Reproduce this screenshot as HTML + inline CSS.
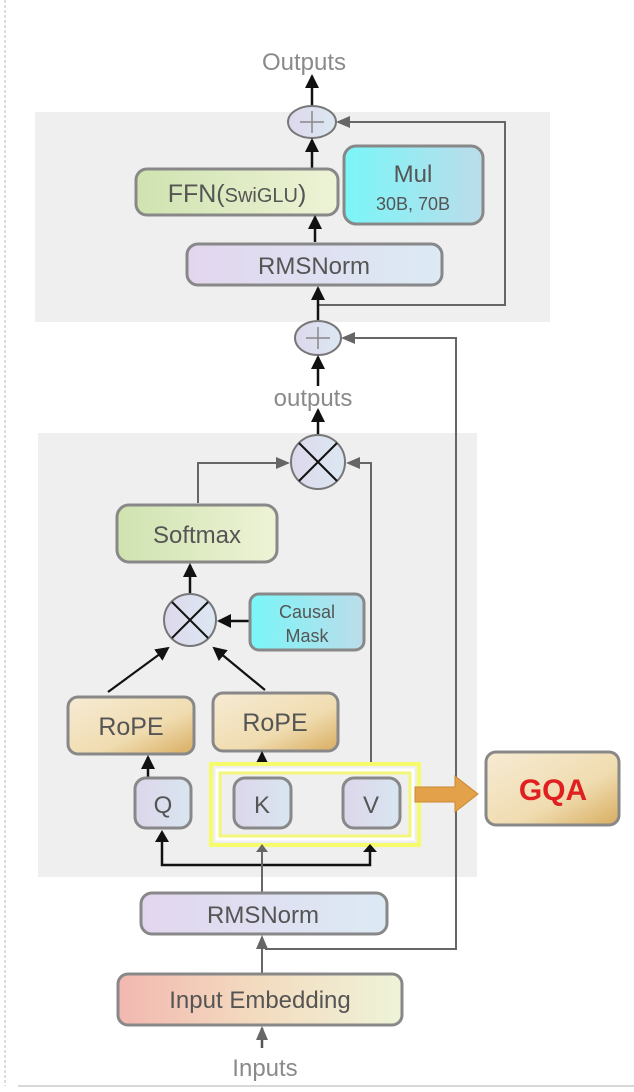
<!DOCTYPE html>
<html><head><meta charset="utf-8"><style>
html,body{margin:0;padding:0;background:#fff}
svg{display:block}
text{font-family:"Liberation Sans",sans-serif}
</style></head><body>
<svg width="634" height="1092" viewBox="0 0 634 1092" xmlns="http://www.w3.org/2000/svg">
<defs>
<marker id="ab" markerWidth="10" markerHeight="10" refX="8" refY="5" orient="auto" markerUnits="userSpaceOnUse"><path d="M0,0 L10,5 L0,10 z" fill="#111"/></marker>
<marker id="ag" markerWidth="14" markerHeight="12" refX="12" refY="6" orient="auto" markerUnits="userSpaceOnUse"><path d="M0,0 L14,6 L0,12 z" fill="#666"/></marker>
<marker id="abb" markerWidth="14" markerHeight="14" refX="12" refY="7" orient="auto" markerUnits="userSpaceOnUse"><path d="M0,0 L14,7 L0,14 z" fill="#111"/></marker>
<linearGradient id="gGreen" x1="0" x2="1"><stop offset="0" stop-color="#cfe3b0"/><stop offset="1" stop-color="#eef3d6"/></linearGradient>
<linearGradient id="gCyan" x1="0" x2="1"><stop offset="0" stop-color="#7af6f8"/><stop offset="1" stop-color="#bcdcea"/></linearGradient>
<linearGradient id="gRms" x1="0" x2="1"><stop offset="0" stop-color="#e2d6ee"/><stop offset="1" stop-color="#dceaf4"/></linearGradient>
<linearGradient id="gRope" x1="0" y1="0" x2="1" y2="1"><stop offset="0" stop-color="#f6ebd4"/><stop offset="0.6" stop-color="#f0dcb0"/><stop offset="1" stop-color="#d8ad60"/></linearGradient>
<linearGradient id="gQ" x1="0" x2="1"><stop offset="0" stop-color="#ddd6ea"/><stop offset="1" stop-color="#d8e6f0"/></linearGradient>
<linearGradient id="gEmb" x1="0" x2="1"><stop offset="0" stop-color="#f2b8b0"/><stop offset="0.5" stop-color="#f3dcc0"/><stop offset="1" stop-color="#eef3d8"/></linearGradient>
<linearGradient id="gCirc" x1="0" x2="1"><stop offset="0" stop-color="#ddd8ec"/><stop offset="1" stop-color="#dce8f2"/></linearGradient>
</defs>

<!-- page frame -->
<line x1="5" y1="0" x2="5" y2="1086" stroke="#bbb" stroke-width="1" stroke-dasharray="3,2"/>
<line x1="18" y1="1086" x2="634" y2="1086" stroke="#ccc" stroke-width="1.5"/>

<!-- gray boxes -->
<rect x="35" y="112" width="515" height="210" fill="#efefef"/>
<rect x="38" y="433" width="439" height="444" fill="#efefef"/>

<!-- Outputs -->
<text x="304" y="70" font-size="24" fill="#8a8a8a" text-anchor="middle">Outputs</text>
<line x1="312" y1="106" x2="312" y2="76" stroke="#111" stroke-width="2.5" marker-end="url(#abb)"/>

<!-- top plus -->
<ellipse cx="312" cy="122" rx="24" ry="16" fill="url(#gCirc)" stroke="#777" stroke-width="2"/>
<line x1="300" y1="122" x2="324" y2="122" stroke="#888" stroke-width="1.5"/>
<line x1="312" y1="111" x2="312" y2="133" stroke="#888" stroke-width="1.5"/>
<polyline points="318,305 505,305 505,122 338,122" fill="none" stroke="#666" stroke-width="2" marker-end="url(#ag)"/>

<!-- FFN -->
<line x1="312" y1="168" x2="312" y2="140" stroke="#111" stroke-width="2.5" marker-end="url(#abb)"/>
<rect x="136" y="169" width="202" height="46" rx="11" fill="url(#gGreen)" stroke="#888" stroke-width="3"/>
<text x="237" y="202" font-size="25" fill="#555" text-anchor="middle">FFN(<tspan font-size="20">SwiGLU</tspan>)</text>
<rect x="344" y="146" width="139" height="78" rx="12" fill="url(#gCyan)" stroke="#888" stroke-width="3"/>
<text x="413" y="182" font-size="24" fill="#555" text-anchor="middle">Mul</text>
<text x="413" y="210" font-size="18" fill="#555" text-anchor="middle">30B, 70B</text>

<line x1="315" y1="242" x2="315" y2="217" stroke="#111" stroke-width="2.5" marker-end="url(#abb)"/>
<rect x="187" y="244" width="255" height="41" rx="11" fill="url(#gRms)" stroke="#888" stroke-width="3"/>
<text x="314" y="274" font-size="24" fill="#555" text-anchor="middle">RMSNorm</text>

<!-- second plus -->
<line x1="318" y1="320" x2="318" y2="288" stroke="#111" stroke-width="2.5" marker-end="url(#abb)"/>
<ellipse cx="318" cy="338" rx="23" ry="17" fill="url(#gCirc)" stroke="#777" stroke-width="2"/>
<line x1="306" y1="338" x2="330" y2="338" stroke="#888" stroke-width="1.5"/>
<line x1="318" y1="327" x2="318" y2="349" stroke="#888" stroke-width="1.5"/>
<polyline points="265,949 456,949 456,338 343,338" fill="none" stroke="#666" stroke-width="2" marker-end="url(#ag)"/>

<line x1="318" y1="386" x2="318" y2="357" stroke="#111" stroke-width="2.5" marker-end="url(#abb)"/>
<text x="313" y="406" font-size="24" fill="#8a8a8a" text-anchor="middle">outputs</text>
<line x1="318" y1="434" x2="318" y2="410" stroke="#111" stroke-width="2.5" marker-end="url(#abb)"/>

<!-- big mult -->
<circle cx="318" cy="462" r="27" fill="url(#gCirc)" stroke="#777" stroke-width="2"/>
<line x1="299" y1="443" x2="337" y2="481" stroke="#111" stroke-width="2"/>
<line x1="337" y1="443" x2="299" y2="481" stroke="#111" stroke-width="2"/>
<polyline points="198,503 198,463 288,463" fill="none" stroke="#666" stroke-width="2" marker-end="url(#ag)"/>
<polyline points="371,764 371,463 348,463" fill="none" stroke="#666" stroke-width="2" marker-end="url(#ag)"/>

<!-- Softmax -->
<rect x="117" y="505" width="160" height="57" rx="12" fill="url(#gGreen)" stroke="#888" stroke-width="3"/>
<text x="197" y="543" font-size="24" fill="#555" text-anchor="middle">Softmax</text>
<line x1="190" y1="593" x2="190" y2="565" stroke="#111" stroke-width="2.5" marker-end="url(#abb)"/>

<!-- small mult -->
<circle cx="190" cy="620" r="26" fill="url(#gCirc)" stroke="#777" stroke-width="2"/>
<line x1="172" y1="602" x2="208" y2="638" stroke="#111" stroke-width="2"/>
<line x1="208" y1="602" x2="172" y2="638" stroke="#111" stroke-width="2"/>
<line x1="250" y1="621" x2="219" y2="621" stroke="#111" stroke-width="2.5" marker-end="url(#abb)"/>
<rect x="250" y="594" width="114" height="56" rx="9" fill="url(#gCyan)" stroke="#888" stroke-width="3"/>
<text x="307" y="618" font-size="18" fill="#555" text-anchor="middle">Causal</text>
<text x="307" y="642" font-size="18" fill="#555" text-anchor="middle">Mask</text>

<line x1="108" y1="692" x2="168" y2="648" stroke="#111" stroke-width="2.2" marker-end="url(#abb)"/>
<line x1="265" y1="690" x2="214" y2="648" stroke="#111" stroke-width="2.2" marker-end="url(#abb)"/>

<!-- RoPE -->
<rect x="68" y="697" width="126" height="57" rx="10" fill="url(#gRope)" stroke="#888" stroke-width="3"/>
<text x="131" y="735" font-size="25" fill="#555" text-anchor="middle">RoPE</text>
<rect x="213" y="693" width="125" height="58" rx="10" fill="url(#gRope)" stroke="#888" stroke-width="3"/>
<text x="275" y="731" font-size="25" fill="#555" text-anchor="middle">RoPE</text>

<line x1="148" y1="778" x2="148" y2="757" stroke="#111" stroke-width="2.5" marker-end="url(#abb)"/>
<line x1="262" y1="765" x2="262" y2="753" stroke="#111" stroke-width="2.5" marker-end="url(#abb)"/>

<!-- yellow box -->
<rect x="211" y="764" width="208" height="81" fill="none" stroke="#f6fb6a" stroke-width="4"/>
<rect x="217" y="770" width="196" height="69" fill="none" stroke="#fff" stroke-width="3"/>
<rect x="220" y="773" width="190" height="63" fill="none" stroke="#f2f77a" stroke-width="3"/>

<!-- Q K V -->
<rect x="135" y="778" width="56" height="50" rx="11" fill="url(#gQ)" stroke="#888" stroke-width="3"/>
<text x="163" y="813" font-size="24" fill="#555" text-anchor="middle">Q</text>
<rect x="234" y="778" width="57" height="50" rx="11" fill="url(#gQ)" stroke="#888" stroke-width="3"/>
<text x="262" y="813" font-size="24" fill="#555" text-anchor="middle">K</text>
<rect x="343" y="778" width="57" height="50" rx="11" fill="url(#gQ)" stroke="#888" stroke-width="3"/>
<text x="371" y="813" font-size="24" fill="#555" text-anchor="middle">V</text>

<!-- GQA arrow -->
<path d="M415,787 L455,787 L455,776 L478,794 L455,812 L455,802 L415,802 z" fill="#e3a14a" stroke="#c88830" stroke-width="1"/>
<rect x="486" y="752" width="133" height="73" rx="10" fill="url(#gRope)" stroke="#888" stroke-width="3"/>
<text x="553" y="800" font-size="30" font-weight="bold" fill="#e02020" text-anchor="middle">GQA</text>

<!-- branch -->
<polyline points="162,840 162,865 370,865 370,850" fill="none" stroke="#111" stroke-width="2.5"/>
<path d="M155,842 L162,830 L169,842 z" fill="#111"/>
<path d="M363,852 L370,844 L377,852 z" fill="#111"/>
<line x1="262" y1="892" x2="262" y2="850" stroke="#666" stroke-width="2"/>
<path d="M256,852 L262,844 L268,852 z" fill="#666"/>

<!-- bottom RMSNorm -->
<rect x="141" y="893" width="246" height="41" rx="11" fill="url(#gRms)" stroke="#888" stroke-width="3"/>
<text x="263" y="923" font-size="24" fill="#555" text-anchor="middle">RMSNorm</text>
<line x1="262" y1="975" x2="262" y2="937" stroke="#666" stroke-width="2" marker-end="url(#ag)"/>

<rect x="118" y="974" width="284" height="51" rx="10" fill="url(#gEmb)" stroke="#888" stroke-width="3"/>
<text x="260" y="1008" font-size="24" fill="#555" text-anchor="middle">Input Embedding</text>
<line x1="262" y1="1048" x2="262" y2="1028" stroke="#555" stroke-width="2.5" marker-end="url(#ag)"/>
<text x="265" y="1076" font-size="24" fill="#8a8a8a" text-anchor="middle">Inputs</text>
</svg>
</body></html>
